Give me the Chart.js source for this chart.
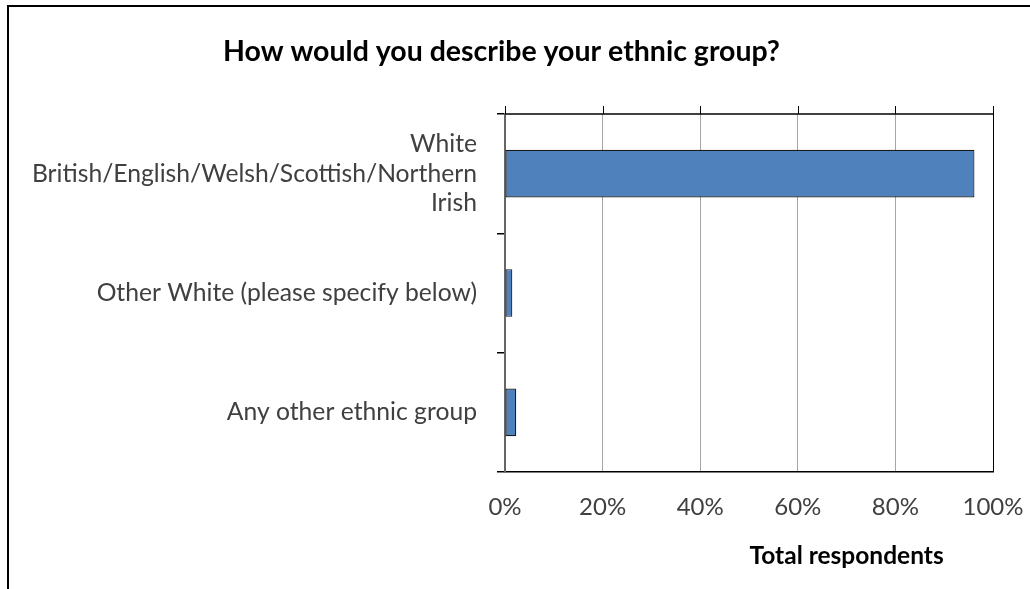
<!DOCTYPE html>
<html>
<head>
<meta charset="utf-8">
<script src="https://cdn.jsdelivr.net/npm/chart.js@4/dist/chart.umd.min.js"></script>
<style>
  html, body { margin: 0; padding: 0; background: #fff; overflow: hidden; }
  #wrap { position: absolute; left: 0; top: 0; width: 1030px; height: 589px; }
  #frame { position: absolute; left: 7px; top: 5px; width: 1100px; height: 700px; border: 2.5px solid #000; box-sizing: border-box; pointer-events: none; }
  canvas { position: absolute; left: 0; top: 0; }
</style>
</head>
<body>
<div id="wrap">
  <canvas id="c" width="1030" height="589"></canvas>
  <div id="frame"></div>
</div>
<script>
const chartTitle = 'How would you describe your ethnic group?';
const axisTitle = 'Total respondents';
const categories = [
  ['White', 'British/English/Welsh/Scottish/Northern', 'Irish'],
  'Other White (please specify below)',
  'Any other ethnic group'
];
const shares = [0.962, 0.015, 0.023];
const tickValues = [0, 0.2, 0.4, 0.6, 0.8, 1.0];

const FONT = 'Lato, "Open Sans", sans-serif';

const decorPlugin = {
  id: 'decorPlugin',
  afterDraw(chart) {
    const ctx = chart.ctx;
    const a = chart.chartArea;
    const xs = chart.scales.x;
    ctx.save();
    // top frame line of the plot area with upward tick marks
    ctx.strokeStyle = '#000';
    ctx.lineWidth = 1.5;
    ctx.beginPath();
    ctx.moveTo(a.left, a.top);
    ctx.lineTo(a.right, a.top);
    ctx.stroke();
    ctx.lineWidth = 1;
    tickValues.forEach(v => {
      const px = Math.round(xs.getPixelForValue(v)) + 0.5;
      ctx.beginPath();
      ctx.moveTo(px, a.top - 8);
      ctx.lineTo(px, a.top);
      ctx.stroke();
    });
    // axis title
    ctx.font = 'bold 24.5px ' + FONT;
    ctx.fillStyle = '#000';
    ctx.textAlign = 'center';
    ctx.textBaseline = 'middle';
    ctx.fillText(axisTitle, a.left + (a.right - a.left) * 0.7, a.bottom + 84);
    ctx.restore();
  }
};

function noPad(scale) {
  scale.paddingLeft = 0; scale.paddingRight = 0;
  scale.paddingTop = 0; scale.paddingBottom = 0;
}

new Chart(document.getElementById('c'), {
  type: 'bar',
  data: {
    labels: categories,
    datasets: [{
      data: shares,
      backgroundColor: '#4f81bd',
      borderColor: '#1a1a1a',
      borderWidth: 1.2,
      borderSkipped: false,
      categoryPercentage: 1.0,
      barPercentage: 0.4
    }]
  },
  options: {
    indexAxis: 'y',
    responsive: false,
    animation: false,
    devicePixelRatio: 1,
    layout: { padding: { left: 10, right: 37, top: 0, bottom: 0 } },
    plugins: {
      legend: { display: false },
      tooltip: { enabled: false },
      title: {
        display: true,
        text: chartTitle,
        color: '#000',
        font: { family: FONT, size: 28.5, weight: 'bold', lineHeight: 1.2 },
        padding: { top: 35, bottom: 44.8 }
      }
    },
    scales: {
      x: {
        position: 'bottom',
        min: 0, max: 1,
        afterBuildTicks(scale) { scale.ticks = tickValues.map(v => ({ value: v })); },
        afterFit(scale) { scale.height = 117; noPad(scale); },
        ticks: {
          color: '#404040',
          font: { family: FONT, size: 24 },
          padding: 21,
          callback: v => Math.round(v * 100) + '%'
        },
        grid: {
          drawTicks: false,
          lineWidth: 1,
          color: ctx => ctx.tick && ctx.tick.value === 1 ? '#000' : '#a6a6a6'
        },
        border: { display: true, color: '#000', width: 1.5 }
      },
      y: {
        afterFit(scale) { scale.width = 495; noPad(scale); },
        ticks: {
          color: '#404040',
          font: { family: FONT, size: 24.7, lineHeight: 1.2 },
          padding: 20
        },
        grid: { drawOnChartArea: false, drawTicks: true, tickLength: 8, color: '#000', lineWidth: 1.5, offset: true },
        border: { display: true, color: '#666', width: 2 }
      }
    }
  },
  plugins: [decorPlugin]
});
</script>
</body>
</html>
